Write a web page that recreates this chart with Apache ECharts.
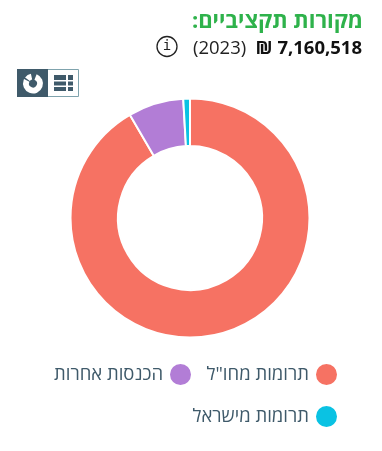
<!DOCTYPE html>
<html>
<head>
<meta charset="utf-8">
<style>
html,body{margin:0;padding:0;background:#fff}
#chart{width:382px;height:451px;direction:rtl}
</style>
<script src="https://cdn.jsdelivr.net/npm/echarts@6/dist/echarts.min.js"></script>
</head>
<body>
<div id="chart"></div>
<script>
var categories=['תרומות מחו"ל','הכנסות אחרות','תרומות מישראל'];
var values=[91.6,7.5,0.9];
var colors=['#f67263','#b27dd6','#0ac2e3'];
var titleText='מקורות תקציביים:';
var amountText='7,160,518 ₪';
var yearText='(2023)';
var font='"Open Sans","Noto Sans",sans-serif';
var dark='#3f5a6a';

var pieData=[];
for(var i=0;i<categories.length;i++){
	pieData.push({name:categories[i],value:values[i],itemStyle:{color:colors[i]}});
}
function legendFor(i,right,top){
	return {
		data:[categories[i]],
		right:right,top:top,
		align:'right',
		icon:'circle',
		itemWidth:23,itemHeight:23,
		itemGap:0,
		selectedMode:false,
		textStyle:{fontFamily:font,fontSize:18.5,color:dark,padding:[0,1,0,0]}
	};
}
var myChart=echarts.init(document.getElementById('chart'),null,{renderer:'canvas'});
myChart.setOption({
	animation:false,
	backgroundColor:'#fff',
	legend:[legendFor(0,38,357),legendFor(1,184,357),legendFor(2,38,399)],
	series:[{
		type:'pie',
		center:[190,218],
		radius:[72,119.5],
		startAngle:90,
		label:{show:false},
		labelLine:{show:false},
		silent:true,
		itemStyle:{borderColor:'#fff',borderWidth:2},
		data:pieData
	}],
	graphic:[
		{type:'text',right:19,top:11,style:{text:titleText,font:'bold 22px '+font,fill:'#2eb24b'}},
		{type:'text',right:20,top:39,style:{text:amountText,font:'bold 18.5px '+font,fill:'#111'}},
		{type:'text',left:193,top:39,style:{text:yearText,font:'18.5px '+font,fill:'#222'}},
		// info icon
		{type:'circle',shape:{cx:167,cy:46.5,r:10},style:{fill:'none',stroke:'#222',lineWidth:1.3}},
		{type:'text',x:167,y:46.5,style:{text:'i',font:'14px "DejaVu Sans Mono",monospace',fill:'#222',textAlign:'center',textVerticalAlign:'middle'}},
		// view toggle
		{type:'rect',shape:{x:17.5,y:69.5,width:61,height:27},style:{fill:'#fff',stroke:'#7fa3ad',lineWidth:1}},
		{type:'rect',shape:{x:17,y:69,width:31,height:28},style:{fill:dark}},
		{type:'sector',shape:{cx:33,cy:83.5,r:10,r0:4,startAngle:-1.2,endAngle:3.6},style:{fill:'#fff'}},
		{type:'sector',shape:{cx:33,cy:83.5,r:10,r0:4,startAngle:3.8,endAngle:4.5},style:{fill:'#fff'}},
		{type:'rect',shape:{x:54,y:75,width:12,height:5},style:{fill:dark}},
		{type:'rect',shape:{x:54,y:81.5,width:12,height:4},style:{fill:dark}},
		{type:'rect',shape:{x:54,y:87,width:12,height:4},style:{fill:dark}},
		{type:'rect',shape:{x:68,y:75,width:5,height:5},style:{fill:dark}},
		{type:'rect',shape:{x:68,y:81.5,width:5,height:4},style:{fill:dark}},
		{type:'rect',shape:{x:68,y:87,width:5,height:4},style:{fill:dark}}
	]
});
</script>
</body>
</html>
